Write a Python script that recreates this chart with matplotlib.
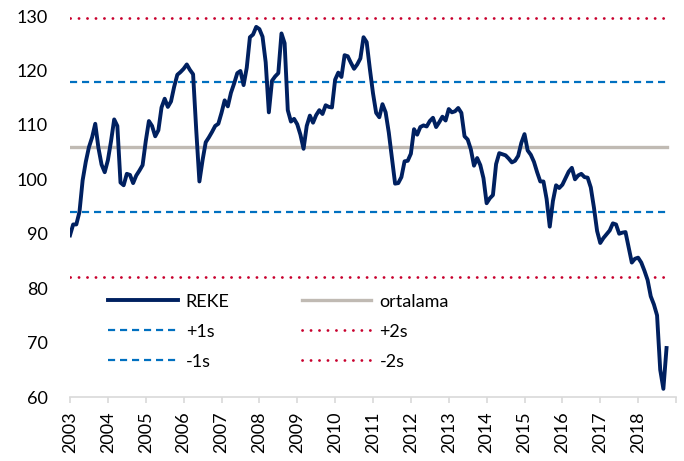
import matplotlib
matplotlib.use("Agg")
import matplotlib.pyplot as plt
import numpy as np

plt.rcParams['font.family'] = ['Lato', 'DejaVu Sans']

start_year = 2003
reke = [
    # 2003
    89.7, 91.7, 91.7, 94.0, 99.8, 103.2, 105.9, 107.7, 110.2, 105.8, 102.7, 101.3,
    # 2004
    103.5, 107.0, 111.0, 109.8, 99.4, 98.9, 101.0, 100.8, 99.3, 100.7, 101.6, 102.6,
    # 2005
    107.0, 110.7, 109.8, 107.9, 109.0, 113.2, 114.8, 113.3, 114.3, 117.0, 119.2, 119.7,
    # 2006
    120.3, 121.1, 120.1, 119.3, 109.0, 99.6, 103.5, 106.8, 107.7, 108.7, 109.8, 110.2,
    # 2007
    112.2, 114.5, 113.4, 115.9, 117.6, 119.5, 119.9, 117.3, 120.5, 126.1, 126.6, 128.0,
    # 2008
    127.6, 126.2, 121.5, 112.3, 118.1, 118.9, 119.5, 126.8, 125.0, 112.7, 110.6, 111.1,
    # 2009
    110.1, 108.2, 105.6, 109.8, 111.7, 110.4, 111.8, 112.7, 112.0, 113.6, 113.3, 113.2,
    # 2010
    118.3, 119.6, 118.8, 122.8, 122.6, 121.4, 120.3, 121.1, 122.2, 126.1, 125.2, 120.3,
    # 2011
    115.8, 112.2, 111.4, 113.8, 112.3, 108.6, 103.9, 99.2, 99.3, 100.4, 103.3, 103.4,
    # 2012
    104.7, 109.2, 108.2, 109.6, 109.9, 109.7, 110.7, 111.3, 109.6, 110.5, 111.5, 110.8,
    # 2013
    112.9, 112.3, 112.5, 113.1, 112.2, 107.9, 107.3, 105.5, 102.5, 103.9, 102.6, 100.2,
    # 2014
    95.6, 96.5, 97.1, 102.8, 104.8, 104.6, 104.4, 103.8, 103.1, 103.4, 104.3, 106.7,
    # 2015
    108.3, 105.3, 104.5, 103.2, 101.3, 99.6, 99.6, 96.4, 91.3, 96.0, 98.9, 98.4,
    # 2016
    99.0, 100.2, 101.4, 102.1, 100.0, 100.7, 101.0, 100.4, 100.3, 98.5, 94.8, 90.5,
    # 2017
    88.3, 89.2, 89.9, 90.6, 91.9, 91.7, 90.0, 90.2, 90.3, 87.5, 84.7, 85.4,
    # 2018
    85.6, 84.7, 83.2, 81.5, 78.5, 77.0, 75.0, 65.0, 61.5, 69.0,
]
mean_val = 105.9
plus1s = 117.8
minus1s = 94.0
plus2s = 129.7
minus2s = 82.1
years = list(range(2003, 2020))
yticks = [60, 70, 80, 90, 100, 110, 120, 130]

x = start_year + np.arange(len(reke)) / 12.0
n = len(reke)

fig = plt.figure(figsize=(6.84, 4.61), dpi=100)
ax = fig.add_axes([70/684, 1-397/461, (676-70)/684, (397-16)/461])

navy = '#002060'
gray = '#C0BAB3'
blue = '#0070C0'
red = '#C8002D'
fs = 13

h_reke, = ax.plot(x, reke, color=navy, lw=2.8, solid_joinstyle='round', zorder=5, label='REKE')
h_mean, = ax.plot(x, [mean_val]*n, color=gray, lw=2.4, zorder=3, label='ortalama')
h_p1, = ax.plot(x, [plus1s]*n, color=blue, lw=1.6, ls=(0, (3.2, 2.2)), zorder=2, label='+1s')
h_m1, = ax.plot(x, [minus1s]*n, color=blue, lw=1.6, ls=(0, (3.2, 2.2)), zorder=2, label='-1s')
h_p2, = ax.plot(x, [plus2s]*n, color=red, lw=2.0, ls=(0, (0.05, 3.0)), dash_capstyle='round', zorder=2, label='+2s')
h_m2, = ax.plot(x, [minus2s]*n, color=red, lw=2.0, ls=(0, (0.05, 3.0)), dash_capstyle='round', zorder=2, label='-2s')

ax.set_xlim(2003, 2019)
ax.set_ylim(60, 130)
ax.set_yticks(yticks)
ax.set_xticks(years)
ax.set_xticklabels([str(y) if y < 2019 else '' for y in years], rotation=90)

for s in ['top', 'right', 'left']:
    ax.spines[s].set_visible(False)
ax.spines['bottom'].set_color('#D9D9D9')
ax.spines['bottom'].set_linewidth(1.2)
ax.tick_params(axis='x', colors='#D9D9D9', length=4.5, width=1.2, labelcolor='black', labelsize=fs, pad=6)
ax.tick_params(axis='y', length=0, labelsize=fs, pad=16)

leg = ax.legend(handles=[h_reke, h_p1, h_m1, h_mean, h_p2, h_m2], ncol=2, frameon=False,
                loc='upper left', bbox_to_anchor=(0.036, 0.314), fontsize=fs,
                handlelength=3.85, handletextpad=0.45, columnspacing=4.0, labelspacing=0.78)

fig.savefig('out.png', dpi=100)
